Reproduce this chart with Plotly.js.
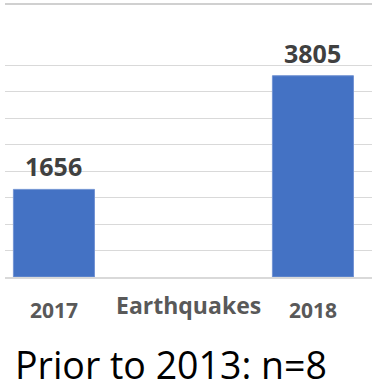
<!DOCTYPE html>
<html>
<head>
<meta charset="utf-8">
<script src="https://cdn.plot.ly/plotly-3.0.1.min.js"></script>
<style>html,body{margin:0;padding:0;background:#fff;}#chart{width:376px;height:390px;}</style>
</head>
<body>
<div id="chart"></div>
<script>
var categories = ["2017", "2018"];
var earthquakes = [1656, 3805];
var seriesName = "Earthquakes";
var note = "Prior to 2013: n=8";
var gridValues = [0, 500, 1000, 1500, 2000, 2500, 3000, 3500, 4000];

var trace = {
  type: "bar",
  x: categories,
  y: earthquakes,
  name: seriesName,
  width: 0.313,
  marker: {color: "#4472C4", line: {color: "#7394D3", width: 1}},
  hoverinfo: "none",
  cliponaxis: false
};

var annotations = categories.map(function (c, i) {
  return {
    x: i, y: earthquakes[i], xref: "x", yref: "y",
    text: "<b>" + earthquakes[i] + "</b>",
    showarrow: false, yanchor: "bottom", yshift: 4,
    font: {family: "Open Sans", size: 25, color: "#404040"}
  };
});
annotations.push({
  x: 0.5, y: 0, xref: "paper", yref: "paper",
  text: "<b>" + seriesName + "</b>", showarrow: false,
  yanchor: "middle", yshift: -28,
  font: {family: "Open Sans", size: 23, color: "#595959"}
});
annotations.push({
  x: 0, y: 0, xref: "paper", yref: "paper",
  text: note, showarrow: false, xanchor: "left",
  yanchor: "middle", xshift: 8, yshift: -87,
  font: {family: "Open Sans", size: 37.5, color: "#000000"}
});

var layout = {
  width: 376, height: 390,
  margin: {l: 5, r: 4, t: 3, b: 112.7, pad: 0},
  paper_bgcolor: "#ffffff", plot_bgcolor: "#ffffff",
  showlegend: false,
  xaxis: {
    type: "category",
    range: [-0.189, 1.228],
    showgrid: false, zeroline: false,
    showline: true, linecolor: "#D9D9D9", linewidth: 1.5,
    ticks: "", ticklabelstandoff: 14,
    tickfont: {family: "Open Sans", size: 21, color: "#595959", weight: "bold"}
  },
  yaxis: {
    range: [0, 5180],
    tickvals: gridValues,
    showticklabels: false,
    showgrid: true, gridcolor: "#D9D9D9", gridwidth: 1,
    zeroline: false, showline: false
  },
  shapes: [{
    type: "line", xref: "paper", yref: "paper", layer: "above",
    x0: 0, x1: 1, y0: 0.996, y1: 0.996,
    line: {color: "#D0D0D0", width: 2}
  }],
  annotations: annotations
};

Plotly.newPlot("chart", [trace], layout, {staticPlot: true, displayModeBar: false});
</script>
</body>
</html>
